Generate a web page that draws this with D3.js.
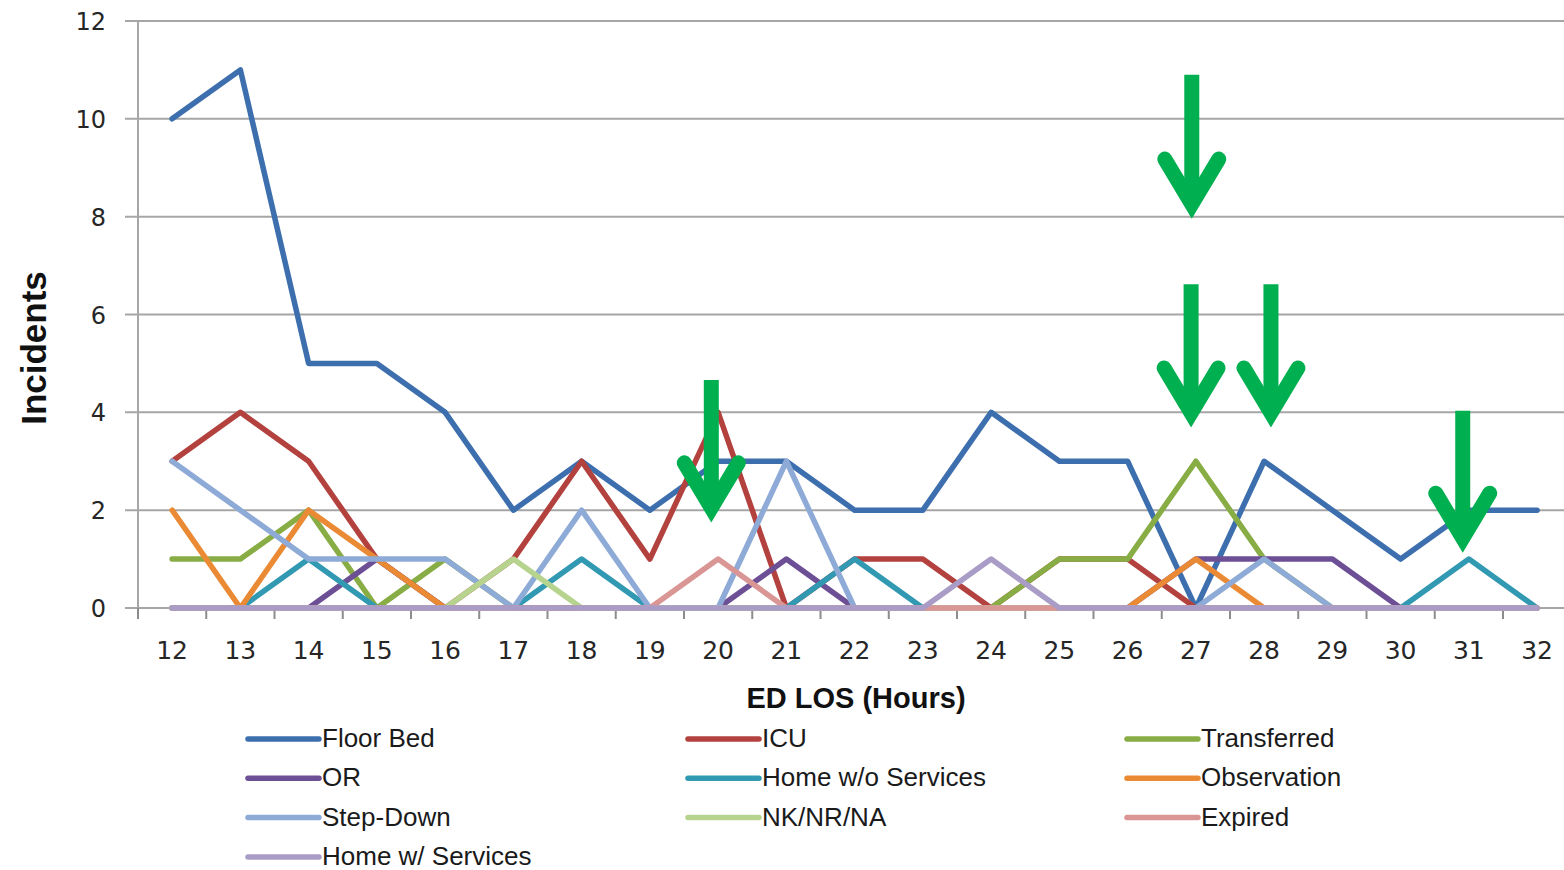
<!DOCTYPE html>
<html>
<head>
<meta charset="utf-8">
<script src="https://cdn.jsdelivr.net/npm/d3@7"></script>
<style>
  html, body { margin: 0; padding: 0; background: #fff; }
  svg { display: block; }
</style>
</head>
<body>
<svg id="chart" width="1564" height="870"></svg>
<script>
// ---- data ----
const hours = [12,13,14,15,16,17,18,19,20,21,22,23,24,25,26,27,28,29,30,31,32];
const yTicks = [0,2,4,6,8,10,12];
const seriesNames = ["Floor Bed","ICU","Transferred","OR","Home w/o Services","Observation","Step-Down","NK/NR/NA","Expired","Home w/ Services"];
const floorBed      = [10,11,5,5,4,2,3,2,3,3,2,2,4,3,3,0,3,2,1,2,2];
const icu           = [3,4,3,1,0,1,3,1,4,0,1,1,0,1,1,0,0,0,0,0,0];
const transferred   = [1,1,2,0,1,0,0,0,0,0,0,0,0,1,1,3,1,0,0,0,0];
const orSurgery     = [0,0,0,1,0,0,0,0,0,1,0,0,0,0,0,1,1,1,0,0,0];
const homeWoServices= [0,0,1,0,0,0,1,0,0,0,1,0,0,0,0,0,0,0,0,1,0];
const observation   = [2,0,2,1,0,0,0,0,0,0,0,0,0,0,0,1,0,0,0,0,0];
const stepDown      = [3,2,1,1,1,0,2,0,0,3,0,0,0,0,0,0,1,0,0,0,0];
const nkNrNa        = [0,0,0,0,0,1,0,0,0,0,0,0,0,0,0,0,0,0,0,0,0];
const expired       = [0,0,0,0,0,0,0,0,1,0,0,0,0,0,0,0,0,0,0,0,0];
const homeWServices = [0,0,0,0,0,0,0,0,0,0,0,0,1,0,0,0,0,0,0,0,0];
const seriesValues = [floorBed, icu, transferred, orSurgery, homeWoServices, observation, stepDown, nkNrNa, expired, homeWServices];
const seriesColors = ["#3d6fae","#b3423f","#88ad45","#6d4f96","#3299b3","#eb8a34","#8eaad7","#b7d48f","#d99694","#a99cc6"];
// annotation arrows (category, offset in bands, top value, tip value)
const arrowCats   = [20, 27, 27, 28, 31];
const arrowOffset = [-0.1, -0.06, -0.07, 0.1, -0.09];
const arrowTop    = [4.66, 10.9, 6.62, 6.62, 4.03];
const arrowTip    = [1.74, 7.95, 3.68, 3.68, 1.12];

// ---- layout ----
const svg = d3.select("#chart");
const plotLeft = 138, plotBottom = 608, plotTop = 21, band = 68.25;
const x = d3.scaleBand().domain(hours).range([plotLeft, plotLeft + band * hours.length]).paddingInner(0).paddingOuter(0);
const xc = h => x(h) + x.bandwidth() / 2;
const y = d3.scaleLinear().domain([0, 12]).range([plotBottom, plotTop]);

// gridlines
svg.append("g").selectAll("line").data(yTicks).join("line")
  .attr("x1", plotLeft - 13).attr("x2", 1564)
  .attr("y1", d => y(d)).attr("y2", d => y(d))
  .attr("stroke", "#a6a6a6").attr("stroke-width", 2);

// y axis line
svg.append("line").attr("x1", plotLeft).attr("x2", plotLeft).attr("y1", plotTop).attr("y2", plotBottom)
  .attr("stroke", "#a6a6a6").attr("stroke-width", 2);

// x axis line + ticks
svg.append("line").attr("x1", plotLeft).attr("x2", 1564).attr("y1", plotBottom).attr("y2", plotBottom)
  .attr("stroke", "#a6a6a6").attr("stroke-width", 2);
svg.append("g").selectAll("line").data(hours).join("line")
  .attr("x1", d => x(d)).attr("x2", d => x(d))
  .attr("y1", plotBottom).attr("y2", plotBottom + 11)
  .attr("stroke", "#8c8c8c").attr("stroke-width", 2);

// y tick labels
svg.append("g").selectAll("text").data(yTicks).join("text")
  .attr("x", 106).attr("y", d => y(d) + 9)
  .attr("text-anchor", "end")
  .attr("font-family", "DejaVu Sans, sans-serif").attr("font-size", 24)
  .attr("fill", "#262626")
  .text(d => d);

// x tick labels
svg.append("g").selectAll("text").data(hours).join("text")
  .attr("x", d => xc(d)).attr("y", 659)
  .attr("text-anchor", "middle")
  .attr("font-family", "DejaVu Sans, sans-serif").attr("font-size", 25)
  .attr("fill", "#262626")
  .text(d => d);

// axis titles
svg.append("text")
  .attr("transform", `translate(46,348) rotate(-90)`)
  .attr("text-anchor", "middle")
  .attr("font-family", "Liberation Sans Narrow, Arial Narrow, Liberation Sans, sans-serif")
  .attr("font-weight", "bold").attr("font-size", 35).attr("fill", "#111")
  .text("Incidents");
svg.append("text")
  .attr("x", 856).attr("y", 708)
  .attr("text-anchor", "middle")
  .attr("font-family", "Liberation Sans Narrow, Arial Narrow, Liberation Sans, sans-serif")
  .attr("font-weight", "bold").attr("font-size", 29).attr("fill", "#111")
  .text("ED LOS (Hours)");

// series lines
const line = d3.line().x((d, i) => xc(hours[i])).y(d => y(d));
svg.append("g").selectAll("path").data(seriesValues).join("path")
  .attr("d", d => line(d))
  .attr("fill", "none")
  .attr("stroke", (d, i) => seriesColors[i])
  .attr("stroke-width", 5.5)
  .attr("stroke-linejoin", "round")
  .attr("stroke-linecap", "round");

// legend
const legCols = [248, 688, 1127], legRow0 = 739, legRowH = 39.3;
const leg = svg.append("g").selectAll("g").data(seriesNames).join("g")
  .attr("transform", (d, i) => `translate(${legCols[i % 3]},${legRow0 + Math.floor(i / 3) * legRowH})`);
leg.append("line").attr("x1", 0).attr("x2", 71).attr("y1", 0).attr("y2", 0)
  .attr("stroke", (d, i) => seriesColors[i]).attr("stroke-width", 5.5).attr("stroke-linecap", "round");
leg.append("text").attr("x", 74).attr("y", 8)
  .attr("font-family", "Liberation Sans Narrow, Arial Narrow, Liberation Sans, sans-serif")
  .attr("font-size", 26).attr("fill", "#1a1a1a")
  .text(d => d);

// arrows
const arrows = arrowCats.map((c, i) => ({ cx: xc(c) + arrowOffset[i] * band, y0: y(arrowTop[i]), y1: y(arrowTip[i]) }));
const ag = svg.append("g").selectAll("g").data(arrows).join("g");
ag.append("line")
  .attr("x1", d => d.cx).attr("x2", d => d.cx)
  .attr("y1", d => d.y0).attr("y2", d => d.y1 - 20)
  .attr("stroke", "#00b050").attr("stroke-width", 15);
ag.append("path")
  .attr("d", d => `M${d.cx - 27},${d.y1 - 60} L${d.cx},${d.y1 - 15} L${d.cx + 27},${d.y1 - 60}`)
  .attr("fill", "none").attr("stroke", "#00b050").attr("stroke-width", 15)
  .attr("stroke-linecap", "round").attr("stroke-linejoin", "miter").attr("stroke-miterlimit", 10);
</script>
</body>
</html>
